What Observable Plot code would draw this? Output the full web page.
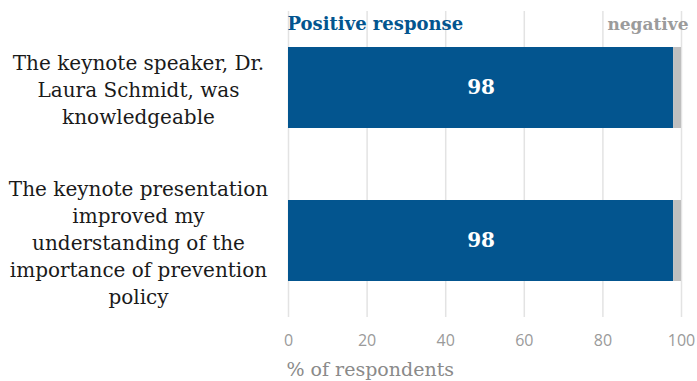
<!DOCTYPE html>
<html>
<head>
<meta charset="utf-8">
<script src="https://cdn.jsdelivr.net/npm/d3@7"></script>
<script src="https://cdn.jsdelivr.net/npm/@observablehq/plot@0.6"></script>
<style>
  html, body { margin: 0; padding: 0; background: #fff; }
  #chart { width: 697px; height: 381px; overflow: hidden; }
</style>
</head>
<body>
<div id="chart"></div>
<script>
const categories = [
  "The keynote speaker, Dr.\nLaura Schmidt, was\nknowledgeable",
  "The keynote presentation\nimproved my\nunderstanding of the\nimportance of prevention\npolicy"
];
const positive = [98, 98];
const negative = [2, 2];
const xTicks = [0, 20, 40, 60, 80, 100];
const seriesNames = ["Positive response", "negative"];
const axisTitle = "% of respondents";

const rows = [];
categories.forEach((c, i) => {
  rows.push({category: c, series: seriesNames[0], value: positive[i]});
  rows.push({category: c, series: seriesNames[1], value: negative[i]});
});
const posRows = categories.map((c, i) => ({category: c, value: positive[i]}));

const serif = "DejaVu Serif, Liberation Serif, serif";
const sans = "Open Sans, Noto Sans, sans-serif";
const blue = "#03558f";
const grey = "#bfbfbf";

const chart = Plot.plot({
  width: 697,
  height: 381,
  marginLeft: 288,
  marginRight: 16,
  marginTop: 11,
  marginBottom: 64,
  style: {fontFamily: serif, background: "#fff"},
  x: {domain: [0, 100], ticks: xTicks},
  y: {domain: categories, paddingInner: 0.47, paddingOuter: 0.235, axis: null},
  color: {domain: seriesNames, range: [blue, grey]},
  marks: [
    Plot.ruleX(xTicks, {stroke: "#e3e3e3", strokeWidth: 1.5}),
    Plot.axisX({ticks: xTicks, tickSize: 0, tickPadding: 17, fontSize: 16, fontFamily: sans, color: "#9a9a9a", label: null}),
    Plot.barX(rows, Plot.stackX({y: "category", x: "value", fill: "series", order: seriesNames})),
    Plot.text(posRows, {y: "category", x: d => d.value / 2, text: d => String(d.value), fill: "white", fontWeight: "bold", fontSize: 20}),
    Plot.text(categories, {y: d => d, text: d => d, frameAnchor: "left", dx: -150, textAnchor: "middle", fontSize: 20, lineHeight: 1.35, fill: "#1a1a1a"}),
    Plot.text([seriesNames[0]], {frameAnchor: "top-left", dy: 13, dx: -1, textAnchor: "start", lineAnchor: "middle", fill: blue, fontWeight: "bold", fontSize: 18}),
    Plot.text([seriesNames[1]], {frameAnchor: "top-right", dy: 13, dx: 7, textAnchor: "end", lineAnchor: "middle", fill: "#9b9b9b", fontWeight: "bold", fontSize: 17}),
    Plot.text([axisTitle], {frameAnchor: "bottom-left", dy: 52, dx: -2, textAnchor: "start", lineAnchor: "middle", fill: "#8a8a8a", fontSize: 19})
  ]
});
document.getElementById("chart").appendChild(chart);
</script>
</body>
</html>
